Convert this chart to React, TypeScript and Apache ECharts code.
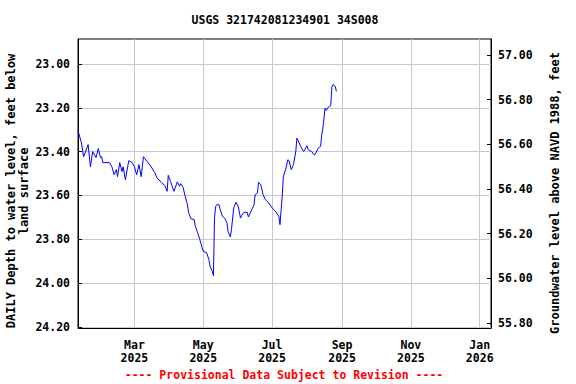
import { useEffect, useRef } from 'react';
import * as echarts from 'echarts';

const dates = [
  '2025-01-10','2025-01-13','2025-01-15','2025-01-19','2025-01-21','2025-01-23','2025-01-26','2025-01-28','2025-01-30','2025-01-31',
  '2025-02-01','2025-02-07','2025-02-09','2025-02-11','2025-02-13','2025-02-14','2025-02-16','2025-02-18','2025-02-19','2025-02-21',
  '2025-02-24','2025-02-27','2025-03-01','2025-03-03','2025-03-05','2025-03-07','2025-03-09','2025-03-13','2025-03-16','2025-03-19',
  '2025-03-21','2025-03-25','2025-03-28','2025-03-30','2025-03-31','2025-04-02','2025-04-05','2025-04-08','2025-04-10','2025-04-11',
  '2025-04-13','2025-04-15','2025-04-17','2025-04-18','2025-04-20','2025-04-23','2025-04-24','2025-04-26','2025-04-28','2025-04-30',
  '2025-05-01','2025-05-04','2025-05-06','2025-05-07','2025-05-09','2025-05-10','2025-05-11','2025-05-12','2025-05-13','2025-05-15',
  '2025-05-16','2025-05-18','2025-05-20','2025-05-22','2025-05-23','2025-05-25','2025-05-26','2025-05-28','2025-05-30','2025-06-01',
  '2025-06-03','2025-06-04','2025-06-06','2025-06-09','2025-06-10','2025-06-13','2025-06-15','2025-06-16','2025-06-18','2025-06-19',
  '2025-06-21','2025-06-23','2025-06-25','2025-06-28','2025-07-01','2025-07-04','2025-07-07','2025-07-08','2025-07-10','2025-07-11',
  '2025-07-13','2025-07-15','2025-07-16','2025-07-18','2025-07-20','2025-07-22','2025-07-23','2025-07-25','2025-07-27','2025-07-29',
  '2025-08-01','2025-08-02','2025-08-05','2025-08-07','2025-08-08','2025-08-11','2025-08-13','2025-08-14','2025-08-15','2025-08-17',
  '2025-08-18','2025-08-20','2025-08-22','2025-08-23','2025-08-24','2025-08-26','2025-08-27'
];

const depths = [
  23.304,23.359,23.423,23.368,23.469,23.400,23.427,23.386,23.427,23.423,
  23.450,23.450,23.469,23.505,23.482,23.514,23.450,23.491,23.469,23.528,
  23.441,23.450,23.469,23.505,23.459,23.514,23.423,23.450,23.470,23.496,
  23.519,23.541,23.555,23.581,23.508,23.536,23.581,23.538,23.558,23.546,
  23.561,23.604,23.642,23.678,23.706,23.710,23.741,23.770,23.802,23.839,
  23.855,23.861,23.893,23.923,23.946,23.966,23.700,23.650,23.642,23.642,
  23.665,23.695,23.703,23.725,23.765,23.789,23.756,23.657,23.631,23.650,
  23.703,23.692,23.677,23.677,23.698,23.665,23.642,23.596,23.589,23.540,
  23.551,23.596,23.619,23.634,23.657,23.672,23.695,23.733,23.600,23.513,
  23.482,23.437,23.441,23.482,23.459,23.399,23.338,23.360,23.383,23.399,
  23.373,23.391,23.399,23.414,23.414,23.383,23.376,23.323,23.292,23.201,
  23.212,23.196,23.190,23.105,23.094,23.102,23.125
];

const tickDates = ['2025-03-01','2025-05-01','2025-07-01','2025-09-01','2025-11-01','2026-01-01'];
const tickLabels = ['Mar\n2025','May\n2025','Jul\n2025','Sep\n2025','Nov\n2025','Jan\n2026'];
const depthTicks = [23.0, 23.2, 23.4, 23.6, 23.8, 24.0, 24.2];
const elevTicks = [55.8, 56.0, 56.2, 56.4, 56.6, 56.8, 57.0];

const xStart = '2025-01-10';
const xEnd = '2026-01-11';

const titleText = 'USGS 321742081234901 34S008';
const leftName = 'DAILY Depth to water level, feet below\nland surface';
const rightName = 'Groundwater level above NAVD 1988, feet';
const footerText = '---- Provisional Data Subject to Revision ----';

function toTime(s: string): number {
  const [y, m, d] = s.split('-').map(Number);
  return Date.UTC(y, m - 1, d);
}

const FONT = 'DejaVu Sans Mono';

export default function App() {
  const ref = useRef<HTMLDivElement>(null);
  useEffect(() => {
    if (!ref.current) return;
    const chart = echarts.init(ref.current, undefined, { renderer: 'svg' });
    const tickTimes = tickDates.map(toTime);
    const labelStyle = { fontFamily: FONT, fontWeight: 'bold' as const, fontSize: 11.5, color: '#000' };
    chart.setOption({
      animation: false,
      backgroundColor: '#fff',
      grid: { left: 78, right: 85, top: 39, bottom: 56, show: true, borderColor: '#000', borderWidth: 1, backgroundColor: 'transparent' },
      xAxis: {
        type: 'value',
        min: toTime(xStart),
        max: toTime(xEnd),
        axisLine: { show: true, lineStyle: { color: '#000', width: 1 } },
        axisTick: { show: false, customValues: tickTimes },
        axisLabel: {
          customValues: tickTimes,
          ...labelStyle,
          lineHeight: 13,
          margin: 10,
          formatter: (v: number) => {
            const i = tickTimes.findIndex((t) => Math.abs(t - v) < 43200000);
            return i >= 0 ? tickLabels[i] : '';
          },
        },
        splitLine: { show: true, lineStyle: { color: '#c8c8c8', width: 1 } },
      },
      yAxis: [
        {
          type: 'value',
          inverse: true,
          min: 22.886,
          max: 24.2046,
          position: 'left',
          axisLine: { show: true, lineStyle: { color: '#000' } },
          axisTick: { show: true, inside: true, length: 4, customValues: depthTicks, lineStyle: { color: '#000' } },
          axisLabel: { customValues: depthTicks, ...labelStyle, margin: 8, formatter: (v: number) => v.toFixed(2) },
          splitLine: { show: true, lineStyle: { color: '#c8c8c8', width: 1 } },
        },
        {
          type: 'value',
          min: 55.7776,
          max: 57.0717,
          position: 'right',
          axisLine: { show: true, lineStyle: { color: '#000' } },
          axisTick: { show: true, inside: true, length: 4, customValues: elevTicks, lineStyle: { color: '#000' } },
          axisLabel: { customValues: elevTicks, ...labelStyle, margin: 7, formatter: (v: number) => v.toFixed(2) },
          splitLine: { show: false },
        },
      ],
      series: [
        {
          type: 'line',
          yAxisIndex: 0,
          showSymbol: false,
          symbol: 'none',
          data: dates.map((d, i) => [toTime(d), depths[i]]),
          lineStyle: { color: '#0000ff', width: 1 },
          itemStyle: { color: '#0000ff' },
          z: 5,
        },
      ],
      graphic: [
        { type: 'text', x: 285, y: 20, style: { text: titleText, fontFamily: FONT, fontWeight: 'bold', fontSize: 11.5, fill: '#000', textAlign: 'center', textVerticalAlign: 'middle' } },
        { type: 'text', x: 17.5, y: 191, rotation: Math.PI / 2, style: { text: leftName, fontFamily: FONT, fontWeight: 'bold', fontSize: 12, lineHeight: 13, fill: '#000', textAlign: 'center', textVerticalAlign: 'middle' } },
        { type: 'text', x: 555, y: 193, rotation: Math.PI / 2, style: { text: rightName, fontFamily: FONT, fontWeight: 'bold', fontSize: 12, fill: '#000', textAlign: 'center', textVerticalAlign: 'middle' } },
        { type: 'text', x: 284, y: 375, style: { text: footerText, fontFamily: FONT, fontWeight: 'bold', fontSize: 11.5, fill: '#ff0000', textAlign: 'center', textVerticalAlign: 'middle' } },
      ],
    });
    return () => chart.dispose();
  }, []);
  return <div ref={ref} style={{ position: 'fixed', left: 0, top: 0, width: 576, height: 384 }} />;
}
